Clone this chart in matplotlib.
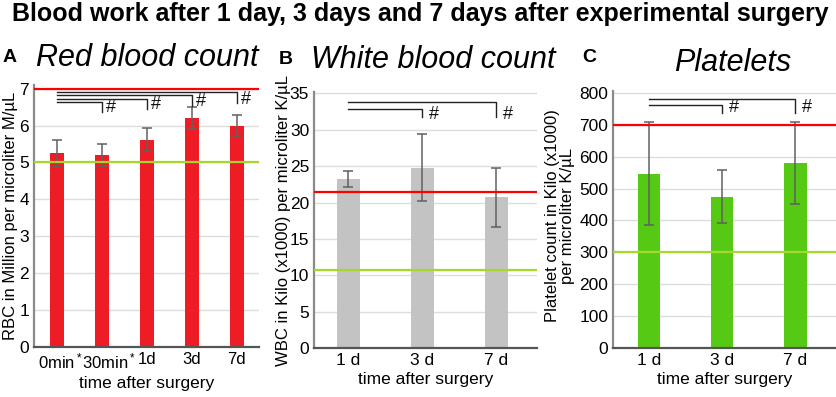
import matplotlib
matplotlib.use('Agg')
import matplotlib.pyplot as plt
import matplotlib.transforms as mtransforms
import numpy as np

plt.rcParams['font.family'] = ['Liberation Sans', 'DejaVu Sans']
plt.rcParams['mathtext.fontset'] = 'custom'
plt.rcParams['mathtext.rm'] = 'Liberation Sans'
plt.rcParams['mathtext.it'] = 'Liberation Sans:italic'

# --- data ---
rbc_labels = ['0min$^*$', '30min$^*$', '1d', '3d', '7d']
rbc_mean = [5.25, 5.2, 5.62, 6.2, 5.99]
rbc_err = [0.36, 0.3, 0.32, 0.3, 0.3]
rbc_low, rbc_high = 5.0, 7.0
rbc_brackets = [(0, 4, 6.91, 6.6), (0, 3, 6.82, 6.53), (0, 2, 6.73, 6.46), (0, 1, 6.64, 6.38)]

wbc_labels = ['1 d', '3 d', '7 d']
wbc_mean = [23.2, 24.8, 20.7]
wbc_err = [1.1, 4.6, 4.0]
wbc_low, wbc_high = 10.7, 21.5
wbc_brackets = [(0, 2, 33.76, 31.7), (0, 1, 32.93, 31.7)]

plt_labels = ['1 d', '3 d', '7 d']
plt_mean = [547, 475, 580]
plt_err = [161, 82, 128]
plt_low, plt_high = 300, 700
plt_brackets = [(0, 2, 781, 737), (0, 1, 763, 737)]

W, H = 837, 397
fig = plt.figure(figsize=(W / 100, H / 100), dpi=100)


def px_ax(x0, x1, y0, y1):
    return fig.add_axes([x0 / W, 1 - y1 / H, (x1 - x0) / W, (y1 - y0) / H])


def panel(ax, labels, mean, err, color, low, high, ymax, step, xlim, brackets, hash_dy):
    x = np.arange(len(labels))
    ax.bar(x, mean, width=0.31, color=color, zorder=2)
    ax.errorbar(x, mean, yerr=err, fmt='none', ecolor='#606060', elinewidth=1.1,
                capsize=3.5, capthick=1.1, zorder=3)
    ax.axhline(high, color='#ff0000', lw=1.6, zorder=4)
    ax.axhline(low, color='#a6d82a', lw=1.6, zorder=4)
    for a, b, level, drop in brackets:
        ax.plot([a, b, b], [level, level, drop], color='#222222', lw=1.0,
                zorder=5, clip_on=False)
        ax.text(b + 0.09, drop + hash_dy, '#', fontsize=13, ha='left', va='center',
                color='#111111')
    ax.set_xlim(*xlim)
    ax.set_ylim(0, ymax)
    ax.set_yticks(np.arange(0, ymax, step))
    ax.set_xticks(x)
    ax.set_xticklabels(labels)
    ax.yaxis.grid(True, color='#dcdcdc', lw=1.0, zorder=0)
    ax.set_axisbelow(True)
    for s in ['top', 'right']:
        ax.spines[s].set_visible(False)
    ax.spines['left'].set_color('#8a8a8a')
    ax.spines['left'].set_linewidth(1.6)
    ax.spines['bottom'].set_color('#555555')
    ax.spines['bottom'].set_linewidth(1.6)
    ax.tick_params(length=0, labelsize=12.5, pad=3.5)
    ax.set_xlabel('time after surgery', fontsize=12.5, labelpad=3)


axA = px_ax(34, 259, 85, 347)
panel(axA, rbc_labels, rbc_mean, rbc_err, '#ee1c25', rbc_low, rbc_high, 7.1, 1,
      (-0.5, 4.49), rbc_brackets, 0.12)
axA.tick_params(axis='x', labelsize=12)
# the minute labels sit a little to the right in the original
for lab, dx in zip(axA.get_xticklabels()[:2], [4, 7]):
    lab.set_transform(lab.get_transform() + mtransforms.ScaledTranslation(dx / 100, 0, fig.dpi_scale_trans))

axB = px_ax(314, 537, 92, 348)
panel(axB, wbc_labels, wbc_mean, wbc_err, '#c3c3c3', wbc_low, wbc_high, 35.2, 5,
      (-0.46, 2.55), wbc_brackets, 0.4)

axC = px_ax(613, 837, 91, 348)
panel(axC, plt_labels, plt_mean, plt_err, '#55c914', plt_low, plt_high, 806, 100,
      (-0.49, 2.57), plt_brackets, 18)

# titles
fig.text(0.502, 1 - 21 / H, 'Blood work after 1 day, 3 days and 7 days after experimental surgery',
         ha='center', va='baseline', fontsize=18, fontweight='bold')
fig.text(147 / W, 1 - 66 / H, 'Red blood count', ha='center', va='baseline',
         fontsize=22, style='italic')
fig.text(433 / W, 1 - 68 / H, 'White blood count', ha='center', va='baseline',
         fontsize=22, style='italic')
fig.text(733 / W, 1 - 71 / H, 'Platelets', ha='center', va='baseline',
         fontsize=22, style='italic')
fig.text(10 / W, 1 - 57 / H, 'A', ha='center', va='center', fontsize=14, fontweight='bold')
fig.text(286 / W, 1 - 60 / H, 'B', ha='center', va='center', fontsize=14, fontweight='bold')
fig.text(589 / W, 1 - 58 / H, 'C', ha='center', va='center', fontsize=14, fontweight='bold')

# y labels
fig.text(11 / W, 1 - 216 / H, 'RBC in Million per microliter M/\u00b5L', rotation=90,
         ha='center', va='center', fontsize=12)
fig.text(284 / W, 1 - 220 / H, 'WBC in Kilo (x1000) per microliter K/\u00b5L', rotation=90,
         ha='center', va='center', fontsize=12)
fig.text(560 / W, 1 - 216 / H, 'Platelet count in Kilo (x1000)\nper microliter K/\u00b5L',
         rotation=90, ha='center', va='center', fontsize=12, linespacing=0.95)

fig.savefig('out.png', dpi=100)
